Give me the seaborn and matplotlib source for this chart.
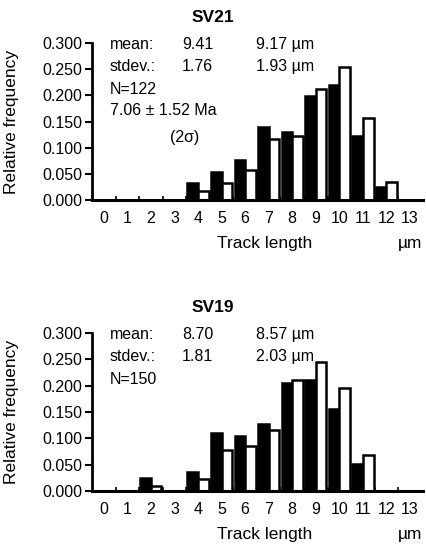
import numpy as np
import pandas as pd
import matplotlib
matplotlib.use("Agg")
import matplotlib.pyplot as plt
import seaborn as sns

sns.set_style("ticks")
plt.rcParams['font.family'] = ['Liberation Sans', 'DejaVu Sans']
plt.rcParams['text.color'] = 'black'
plt.rcParams['xtick.color'] = 'black'
plt.rcParams['ytick.color'] = 'black'
plt.rcParams['axes.edgecolor'] = 'black'

# track length bins (µm)
lengths = list(range(14))

# SV21 relative frequencies (black = measured, white = projected)
sv21_measured = [0, 0, 0, 0, 0.033, 0.053, 0.077, 0.139, 0.129, 0.199, 0.219, 0.123, 0.024, 0]
sv21_projected = [0, 0, 0, 0, 0.017, 0.033, 0.057, 0.116, 0.123, 0.213, 0.254, 0.157, 0.034, 0]

# SV19 relative frequencies
sv19_measured = [0, 0, 0.024, 0, 0.037, 0.111, 0.104, 0.127, 0.205, 0.211, 0.156, 0.051, 0, 0]
sv19_projected = [0, 0, 0.0095, 0, 0.022, 0.077, 0.085, 0.116, 0.211, 0.244, 0.196, 0.069, 0, 0]

yticks = [0.0, 0.05, 0.10, 0.15, 0.20, 0.25, 0.30]

panels = [
    ("SV21", sv21_measured, sv21_projected,
     ["9.41", "1.76"], ["9.17 µm", "1.93 µm"], ["N=122", "7.06 ± 1.52 Ma"]),
    ("SV19", sv19_measured, sv19_projected,
     ["8.70", "1.81"], ["8.57 µm", "2.03 µm"], ["N=150"]),
]

W, H = 426, 550
fig = plt.figure(figsize=(W / 100, H / 100), dpi=100)

# axes boxes in pixels: left, top, right, bottom
boxes = [(92, 43, 423, 200), (92, 333, 423, 491)]
FS = 11.5
LFS = 12.5

for (name, meas, proj, col1, col2, extra), (l, t, r, b) in zip(panels, boxes):
    ax = fig.add_axes([l / W, 1 - b / H, (r - l) / W, (b - t) / H])
    df = pd.DataFrame({
        'length': lengths * 2,
        'freq': meas + proj,
        'series': ['measured'] * len(lengths) + ['projected'] * len(lengths),
    })
    sns.barplot(data=df, x='length', y='freq', hue='series',
                hue_order=['measured', 'projected'], palette=['black', 'white'],
                edgecolor='black', linewidth=1.8, width=0.9, native_scale=True,
                errorbar=None, legend=False, ax=ax)

    ax.set_xlim(-0.5, 13.55)
    ax.set_ylim(0, 0.3)
    ax.set_yticks(yticks)
    ax.set_yticklabels([f"{v:.3f}" for v in yticks], fontsize=FS)
    ax.set_xticks(lengths)
    ax.set_xticklabels([str(v) for v in lengths], fontsize=FS)
    ax.set_xticks([v + 0.5 for v in lengths[:-1]], minor=True)
    ax.tick_params(axis='x', which='major', length=0, pad=8)
    ax.tick_params(axis='x', which='minor', direction='in', length=3, width=1.2)
    ax.tick_params(axis='y', direction='out', length=5, width=1.5, pad=2)
    ax.set_xlabel('')
    ax.set_ylabel('')
    for s in ['top', 'right']:
        ax.spines[s].set_visible(False)
    ax.spines['left'].set_linewidth(2)
    ax.spines['bottom'].set_linewidth(2.2)

    # stats text
    ax.text(0.054, 0.99, "mean:", transform=ax.transAxes, fontsize=FS, va='center')
    ax.text(0.054, 0.85, "stdev.:", transform=ax.transAxes, fontsize=FS, va='center')
    ax.text(0.272, 0.99, col1[0], transform=ax.transAxes, fontsize=FS, va='center')
    ax.text(0.272, 0.85, col1[1], transform=ax.transAxes, fontsize=FS, va='center')
    ax.text(0.495, 0.99, col2[0], transform=ax.transAxes, fontsize=FS, va='center')
    ax.text(0.495, 0.85, col2[1], transform=ax.transAxes, fontsize=FS, va='center')
    ax.text(0.054, 0.705, extra[0], transform=ax.transAxes, fontsize=FS, va='center')
    if len(extra) > 1:
        ax.text(0.054, 0.567, extra[1], transform=ax.transAxes, fontsize=FS, va='center')
        ax.text(0.236, 0.395, "(2σ)", transform=ax.transAxes, fontsize=FS, va='center')

    # title and axis labels
    fig.text(0.5, 1 - (t - 26) / H, name, fontsize=LFS, fontweight='bold',
             ha='center', va='center')
    fig.text(12 / W, 1 - (t + b) / 2 / H, "Relative frequency", rotation=90,
             fontsize=LFS, ha='center', va='center')
    fig.text(265 / W, 1 - (b + 43) / H, "Track length", fontsize=LFS,
             ha='center', va='center')
    fig.text(410 / W, 1 - (b + 43) / H, "µm", fontsize=LFS,
             ha='center', va='center')

fig.savefig("out.png", dpi=100)
